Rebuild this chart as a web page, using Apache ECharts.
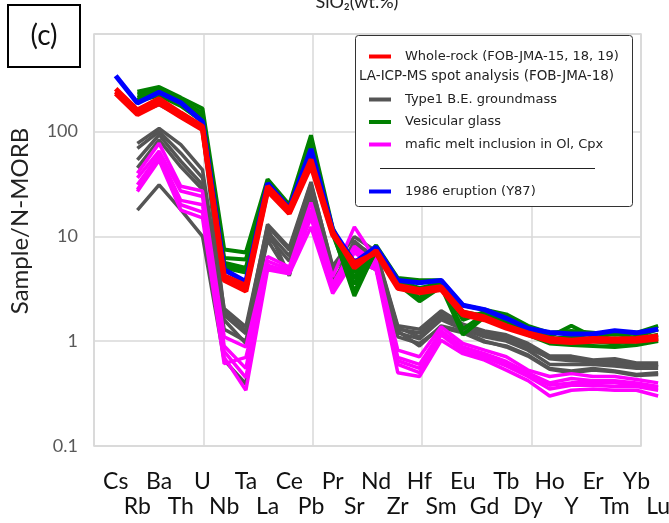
<!DOCTYPE html>
<html>
<head>
<meta charset="utf-8">
<script src="https://cdn.jsdelivr.net/npm/echarts@6/dist/echarts.min.js"></script>
<style>
  html, body { margin: 0; padding: 0; background: #fff; }
  #chart { width: 669px; height: 523px; }
</style>
</head>
<body>
<div id="chart"></div>
<script>
// element order on the x axis
const elements = ['Cs','Rb','Ba','Th','U','Nb','Ta','La','Ce','Pb','Pr','Sr','Nd','Zr','Hf','Sm','Eu','Gd','Tb','Dy','Ho','Y','Er','Tm','Yb','Lu'];
const yTicks = [0.1, 1, 10, 100];

// Whole-rock (FOB-JMA-15, 18, 19)
const wholeRock = [
  [240,150,193,144,108,4.0,3.2,28,17,50,10.7,5.3,7.1,3.3,3.0,3.2,1.84,1.65,1.37,1.18,1.04,1.0,1.04,1.03,1.03,1.08],
  [255,160,205,150,112,4.2,3.4,30,18,54,11,5.0,7.3,3.4,3.1,3.3,1.9,1.7,1.4,1.2,1.06,1.02,1.06,1.05,1.06,1.12],
  [230,145,185,138,104,3.8,3.0,27,16.5,47,10.3,5.6,6.9,3.2,2.9,3.1,1.78,1.6,1.33,1.15,1.0,0.97,1.0,1.0,1.0,1.05]
];
// Type1 B.E. groundmass
const groundmass = [
  [null,77,107,75,43,2.05,1.37,12.5,7.4,32,5.2,9.9,7.2,1.4,1.3,1.95,1.45,1.25,1.15,0.95,0.72,0.72,0.66,0.68,0.62,0.62],
  [null,69,100,62,36,1.77,1.18,11,6.5,28,4.5,8.5,6.5,1.3,1.2,1.8,1.4,1.2,1.1,0.9,0.68,0.65,0.64,0.64,0.58,0.6],
  [null,53.5,93,52,31,1.59,0.95,10,5.8,26,3.8,7.2,5.8,1.2,1.05,1.6,1.3,1.1,1.0,0.82,0.6,0.6,0.6,0.58,0.55,0.55],
  [null,45,83,46,28,1.3,1.0,9.2,4.3,25,3.3,6.0,4.8,1.1,0.95,1.35,1.2,0.98,0.9,0.74,0.55,0.52,0.55,0.52,0.48,0.5],
  [null,17.8,31,18,10,0.66,0.39,12,4.2,30,3.5,9,6,1.25,0.9,1.4,1.25,1.0,0.88,0.72,0.54,0.5,0.53,0.51,0.47,0.48],
  [null,150,180,140,105,1.9,1.25,13,7.8,33,5.0,7.5,7.0,1.35,1.1,1.7,1.4,1.15,1.05,0.85,0.7,0.68,0.62,0.6,0.6,0.57]
];
// Vesicular glass
const vesicular = [
  [null,240,265,210,165,7.5,7.0,35,20,92,12,4.5,8.2,4.0,3.8,3.8,2.2,2.0,1.8,1.4,1.2,1.25,1.2,1.15,1.2,1.4],
  [null,225,250,195,150,6.2,6.0,33,19,80,11.5,3.5,7.8,3.8,3.2,3.6,1.6,1.9,1.65,1.3,1.1,1.4,1.1,1.05,1.1,1.3],
  [null,210,240,185,140,5.6,5.0,31,18,70,11,2.7,7.5,3.6,2.6,3.4,1.3,1.8,1.55,1.2,1.0,1.0,1.0,0.95,1.0,1.05],
  [null,200,230,180,130,5.0,4.5,30,17.5,62,10.5,3.0,7.2,3.5,2.4,3.3,1.15,1.7,1.45,1.15,0.95,0.92,0.9,0.88,0.92,1.0],
  [null,195,220,175,125,5.3,4.8,32,18.5,75,11.2,4.0,7.6,3.7,3.0,3.5,1.9,1.75,1.5,1.25,1.05,1.1,1.05,1.2,1.05,1.15]
];
// mafic melt inclusion in Ol, Cpx
const meltInclusion = [
  [null,40,77,30,27,1.1,0.88,6.4,5.1,21,4.1,12.3,5.9,0.82,0.71,1.37,0.95,0.82,0.71,0.53,0.46,0.49,0.46,0.46,0.43,0.40],
  [null,36,65,27,24,0.9,0.55,5.8,4.8,18,3.5,8,5.5,0.7,0.6,1.25,0.88,0.76,0.64,0.5,0.4,0.44,0.42,0.42,0.4,0.37],
  [null,31,60,22,20,0.8,0.45,5.3,4.6,15,3.1,7,5.0,0.6,0.5,1.15,0.8,0.7,0.58,0.46,0.35,0.38,0.38,0.37,0.37,0.34],
  [null,28,55,20,17,0.7,0.34,4.8,4.4,12.3,2.85,6,4.8,0.5,0.46,1.02,0.76,0.66,0.53,0.42,0.30,0.34,0.35,0.34,0.34,0.30],
  [null,26.7,53,17.8,15,0.61,0.7,5.0,4.5,16,3.3,7.5,5.2,0.65,0.55,1.2,0.82,0.72,0.6,0.48,0.38,0.4,0.4,0.4,0.38,0.36]
];
// 1986 eruption (Y87)
const eruption1986 = [
  [340,187,237,188,124,4.8,3.7,32,18.5,68,11.5,5.6,7.9,3.8,3.6,3.8,2.2,2.0,1.65,1.32,1.21,1.17,1.17,1.26,1.2,1.3]
];

const NAME_WR = 'Whole-rock (FOB-JMA-15, 18, 19)';
const NAME_GM = 'Type1 B.E. groundmass';
const NAME_VG = 'Vesicular glass';
const NAME_MI = 'mafic melt inclusion in Ol, Cpx';
const NAME_86 = '1986 eruption (Y87)';

function lines(name, group, color, width) {
  return group.map(row => ({
    type: 'line',
    name: name,
    xAxisIndex: 1,
    yAxisIndex: 1,
    data: row.map((v, i) => [i, v]).filter(p => p[1] != null),
    symbol: 'none',
    lineStyle: { color: color, width: width },
    itemStyle: { color: color },
    animation: false,
    silent: true
  }));
}

const chart = echarts.init(document.getElementById('chart'));
const legendText = { fontFamily: 'DejaVu Sans', fontSize: 13, color: '#222', padding: [0, 0, 0, 9] };

const option = {
  textStyle: { fontFamily: 'Lato' },
  grid: [
    { left: 94, top: 34, right: 28, bottom: 77, show: true, borderColor: '#d6d6d6', borderWidth: 1.5,
      containLabel: false, outerBoundsMode: 'none' },
    { left: 94, top: 34, right: 0, bottom: 77, containLabel: false, outerBoundsMode: 'none' }
  ],
  xAxis: [
    { gridIndex: 0, type: 'value', min: 0, max: 5, interval: 1,
      axisLine: { show: false }, axisTick: { show: false }, axisLabel: { show: false },
      splitLine: { lineStyle: { color: '#d9d9d9', width: 1.5 } } },
    { gridIndex: 1, type: 'value', position: 'bottom', min: -1, max: 25.5, interval: 1,
      axisLine: { show: false }, axisTick: { show: false }, splitLine: { show: false },
      axisLabel: { margin: 24, fontSize: 23, color: '#111', hideOverlap: false,
        formatter: v => (v >= 0 && v % 2 === 0 && elements[v]) ? elements[v] : '' } },
    { gridIndex: 1, type: 'value', position: 'bottom', offset: 0, min: -1, max: 25.5, interval: 1,
      axisLine: { show: false }, axisTick: { show: false }, splitLine: { show: false },
      axisLabel: { margin: 49, fontSize: 23, color: '#111', hideOverlap: false,
        formatter: v => (v >= 0 && v % 2 === 1 && elements[v]) ? elements[v] : '' } }
  ],
  yAxis: [
    { gridIndex: 0, type: 'log', logBase: 10, min: yTicks[0], max: 850,
      axisLine: { show: false }, axisTick: { show: false },
      axisLabel: { fontSize: 18, color: '#595959', margin: 16, showMaxLabel: false,
        formatter: v => yTicks.indexOf(+v) >= 0 ? String(v) : '' },
      splitLine: { lineStyle: { color: '#d9d9d9', width: 1.5 } },
      name: 'Sample/N-MORB', nameLocation: 'middle', nameGap: 62,
      nameTextStyle: { fontSize: 24, color: '#222', padding: [0, 0, 0, 38] } },
    { gridIndex: 1, type: 'log', logBase: 10, min: yTicks[0], max: 850, show: false }
  ],
  legend: [
    { data: [NAME_WR], left: 364, top: 45, icon: 'rect', itemWidth: 22, itemHeight: 4,
      textStyle: legendText, z: 10, selectedMode: false },
    { data: [NAME_GM, NAME_VG, NAME_MI], orient: 'vertical', left: 364, top: 88, itemGap: 9.5,
      icon: 'rect', itemWidth: 22, itemHeight: 4, textStyle: legendText, z: 10, selectedMode: false },
    { data: [NAME_86], left: 364, top: 180, icon: 'rect', itemWidth: 22, itemHeight: 4,
      textStyle: legendText, z: 10, selectedMode: false }
  ],
  graphic: [
    { type: 'text', z: 10,
      style: { text: 'SiO\u2082(wt.%)', x: 357, y: 11, textAlign: 'center', textVerticalAlign: 'bottom',
        fontSize: 18, fill: '#222', fontFamily: 'Lato' } },
    { type: 'rect', shape: { x: 8, y: 5, width: 72, height: 62 }, z: 10,
      style: { fill: '#fff', stroke: '#000', lineWidth: 2 } },
    { type: 'text', z: 11,
      style: { text: '(c)', x: 44, y: 36, textAlign: 'center', textVerticalAlign: 'middle',
        fontSize: 28, fill: '#111', fontFamily: 'Lato' } },
    { type: 'rect', shape: { x: 355.5, y: 35.5, width: 277, height: 171, r: 3 }, z: 5,
      style: { fill: '#fff', stroke: '#333', lineWidth: 1 } },
    { type: 'text', z: 10,
      style: { text: 'LA-ICP-MS spot analysis (FOB-JMA-18)', x: 359, y: 76, textVerticalAlign: 'middle',
        fontSize: 13.5, fill: '#222', fontFamily: 'DejaVu Sans' } },
    { type: 'line', z: 10, shape: { x1: 380, y1: 168.5, x2: 595, y2: 168.5 },
      style: { stroke: '#222', lineWidth: 1 } }
  ],
  series: [].concat(
    lines(NAME_GM, groundmass, '#555555', 3.5),
    lines(NAME_MI, meltInclusion, '#ff00ff', 3.5),
    lines(NAME_VG, vesicular, '#008000', 4),
    lines(NAME_86, eruption1986, '#0000ff', 5),
    lines(NAME_WR, wholeRock, '#ff0000', 5)
  )
};
chart.setOption(option);
</script>
</body>
</html>
